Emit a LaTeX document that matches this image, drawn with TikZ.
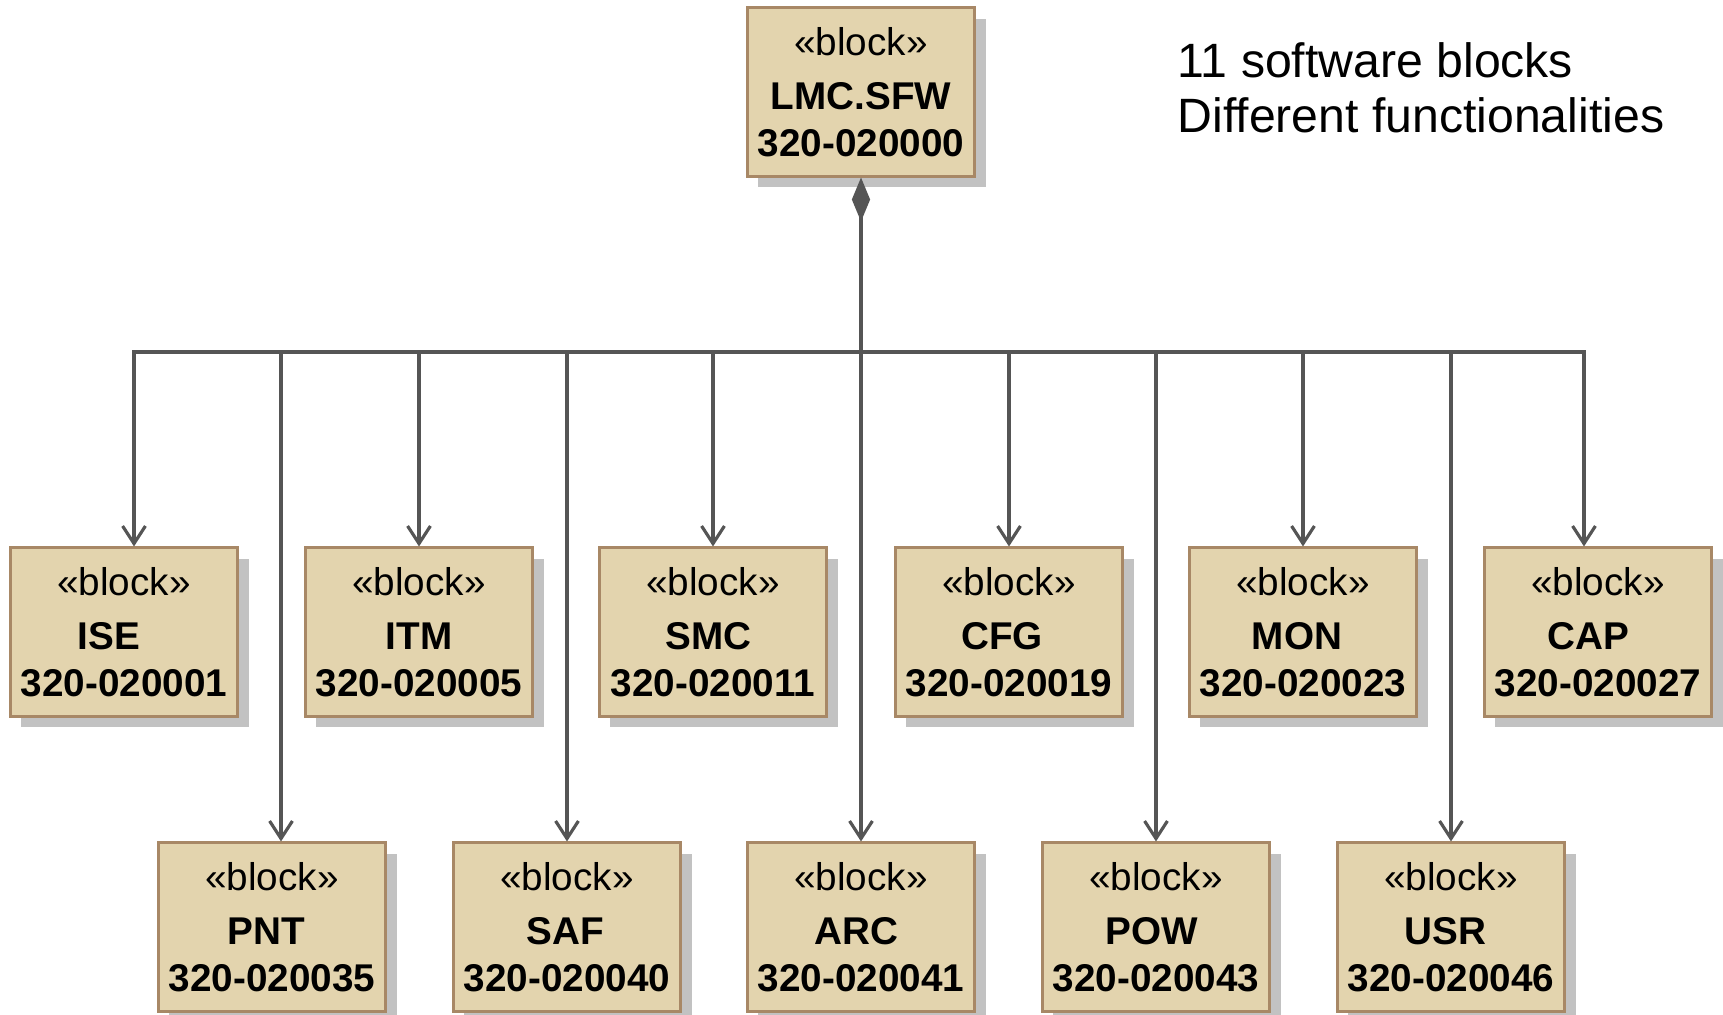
\documentclass[tikz,border=0pt]{standalone}
\usepackage{fontspec}
\setmainfont{Liberation Sans}
\usetikzlibrary{arrows.meta,shadows}

\definecolor{blockfill}{RGB}{227,212,174}
\definecolor{blockline}{RGB}{168,136,102}
\definecolor{linkgray}{RGB}{85,85,85}

% stereotype, name (optional trailing space), part number
\newcommand{\sfwblock}[3][0pt]{«block»\\[2.2pt]\textbf{#2}\hbox to #1{}\\\textbf{#3}}

\begin{document}
\begin{tikzpicture}[x=0.01cm,y=-0.01cm,
    sfw/.style={draw=blockline, fill=blockfill, line width=0.85pt,
      minimum width=2.27cm, minimum height=1.68cm, inner sep=0pt,
      align=center, text depth=0pt, font=\fontsize{11}{13.3}\selectfont,
      drop shadow={shadow xshift=0.11cm, shadow yshift=-0.11cm, fill=black!24, opacity=1}},
    link/.style={draw=linkgray, line width=0.9pt, line cap=rect},
    tip/.style={-{Straight Barb[length=5pt,width=6.5pt]}}]
  \useasboundingbox (0,0) rectangle (1723,1015);

  \node[sfw] (sfw) at (861,92) {\sfwblock{LMC.SFW}{320-020000}};

  \node[sfw] (ise) at (124,632)  {\sfwblock[8.6pt]{ISE}{320-020001}};
  \node[sfw] (itm) at (419,632)  {\sfwblock{ITM}{320-020005}};
  \node[sfw] (smc) at (713,632)  {\sfwblock[2.5pt]{SMC}{320-020011}};
  \node[sfw] (cfg) at (1009,632) {\sfwblock[4pt]{CFG}{320-020019}};
  \node[sfw] (mon) at (1303,632) {\sfwblock[3.4pt]{MON}{320-020023}};
  \node[sfw] (cap) at (1598,632) {\sfwblock[5.7pt]{CAP}{320-020027}};

  \node[sfw] (pnt) at (272,927)  {\sfwblock[3.4pt]{PNT}{320-020035}};
  \node[sfw] (saf) at (567,927)  {\sfwblock[0.8pt]{SAF}{320-020040}};
  \node[sfw] (arc) at (861,927)  {\sfwblock[2.8pt]{ARC}{320-020041}};
  \node[sfw] (pow) at (1156,927) {\sfwblock[2.5pt]{POW}{320-020043}};
  \node[sfw] (usr) at (1451,927) {\sfwblock[3.1pt]{USR}{320-020046}};

  \node[anchor=north west, align=left, inner sep=0pt,
    font=\fontsize{13.7}{15.7}\selectfont] (note) at (1177,42)
    {11 software blocks\\Different functionalities};

  % composition tree
  \coordinate (bus) at (861,352);
  \coordinate (ise-in) at ([xshift=1mm]ise.north);
  \coordinate (pnt-in) at ([xshift=0.9mm]pnt.north);
  \coordinate (cap-in) at ([xshift=-1.4mm]cap.north);
  \foreach \n in {itm,smc,cfg,mon,saf,arc,pow,usr}
    \coordinate (\n-in) at (\n.north);

  \draw[link, {Diamond[length=12.5pt,width=5.2pt]}-] (sfw.south) -- (bus);
  \draw[link] (ise-in |- bus) -- (cap-in |- bus);
  \foreach \n in {ise,pnt,itm,saf,smc,arc,cfg,pow,mon,usr,cap}
    \draw[link, tip] (\n-in |- bus) -- (\n-in);
\end{tikzpicture}
\end{document}
